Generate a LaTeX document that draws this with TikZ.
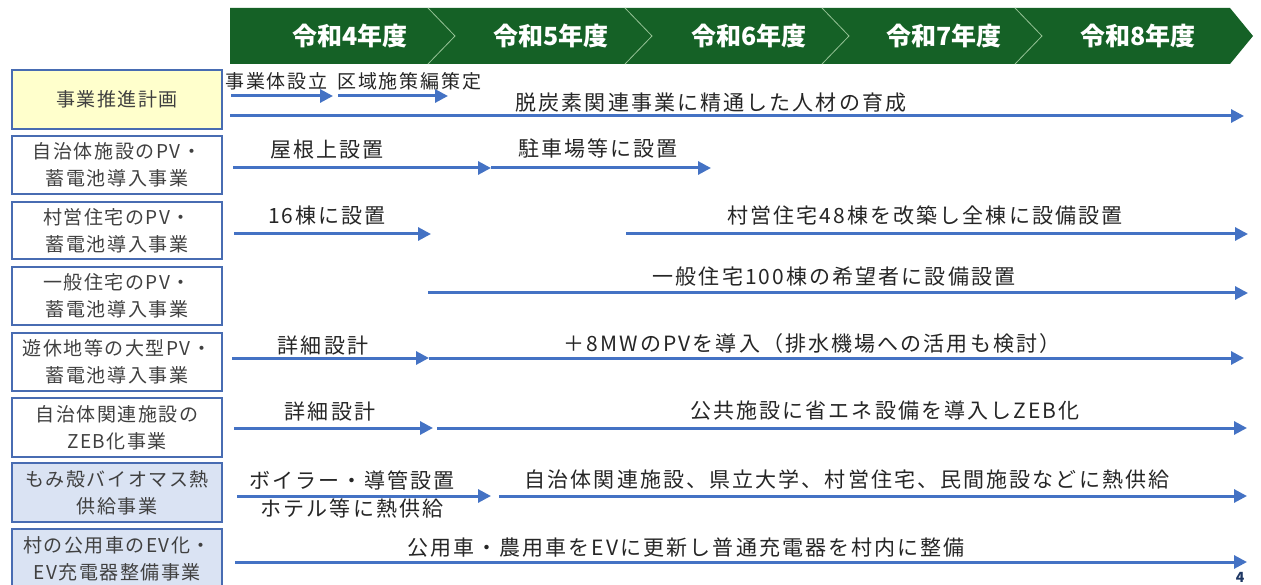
\documentclass[tikz,border=0pt]{standalone}
\usepackage{fontspec}
\usetikzlibrary{arrows.meta}
\newfontfamily\jpf[LetterSpace=10]{Noto Sans CJK JP}
\newfontfamily\jpb[LetterSpace=8]{Noto Sans CJK JP}
\newfontfamily\jph{Noto Sans CJK JP}
\definecolor{hdrgreen}{RGB}{21,97,38}
\definecolor{divline}{RGB}{150,195,150}
\definecolor{arrblue}{RGB}{68,114,196}
\definecolor{boxline}{RGB}{72,108,178}
\definecolor{boxtext}{RGB}{64,64,64}
\definecolor{lbltext}{RGB}{38,38,38}
\definecolor{yfill}{RGB}{255,255,204}
\definecolor{bfill}{RGB}{218,227,243}
\definecolor{pgnum}{RGB}{31,56,100}
\tikzset{
  x=1pt, y=-1pt,
  rowbox/.style={draw=boxline, line width=1.3pt, fill=white, minimum width=210pt, minimum height=58pt,
    inner sep=0pt, align=center, text=boxtext, font=\jpb\fontsize{19}{27}\selectfont},
  yearlbl/.style={text=white, font=\jph\bfseries\fontsize{25}{30}\selectfont, inner sep=0pt},
  lbl/.style={text=lbltext, font=\jpf\fontsize{21}{27}\selectfont, inner sep=0pt, align=center},
  slbl/.style={text=lbltext, font=\jpf\fontsize{19}{24}\selectfont, inner sep=0pt, anchor=west},
  arr/.style={draw=arrblue, line width=3pt, -{Triangle[length=13pt,width=13pt]}},
}
\begin{document}
\begin{tikzpicture}
\clip (0,0) rectangle (1261,585);
\useasboundingbox (0,0) rectangle (1261,585);
\fill[white] (0,0) rectangle (1261,585);
% header band
\fill[hdrgreen] (230,8) -- (1230,8) -- (1253,36) -- (1230,64) -- (230,64) -- cycle;
\foreach \xx in {428,625,822,1015}{
  \draw[divline, line width=0.8pt] (\xx,8) -- (\xx+27,36) -- (\xx,64);
}
\node[yearlbl] (y4) at (350,36) {令和4年度};
\node[yearlbl] (y5) at (551,36) {令和5年度};
\node[yearlbl] (y6) at (749,36) {令和6年度};
\node[yearlbl] (y7) at (944,36) {令和7年度};
\node[yearlbl] (y8) at (1138,36) {令和8年度};
% left boxes
\node[rowbox, fill=yfill, minimum height=59pt] (b1) at (117,99.5) {事業推進計画};
\node[rowbox] (b2) at (117,165) {自治体施設のPV・\\蓄電池導入事業};
\node[rowbox, minimum height=57pt] (b3) at (117,230.5) {村営住宅のPV・\\蓄電池導入事業};
\node[rowbox] (b4) at (117,296) {一般住宅のPV・\\蓄電池導入事業};
\node[rowbox] (b5) at (117,362) {遊休地等の大型PV・\\蓄電池導入事業};
\node[rowbox, minimum height=59pt] (b6) at (117,427.5) {自治体関連施設の\\ZEB化事業};
\node[rowbox, fill=bfill, minimum height=59pt] (b7) at (117,492.5) {もみ殻バイオマス熱\\供給事業};
\node[rowbox, fill=bfill, minimum height=60pt] (b8) at (117,559) {村の公用車のEV化・\\EV充電器整備事業};
% row 1
\coordinate (r1a) at (231,96); \coordinate (r1b) at (333,96);
\coordinate (r1c) at (338,96); \coordinate (r1d) at (448,96);
\coordinate (r1e) at (230,116); \coordinate (r1f) at (1244,116);
\draw[arr] (r1a) -- (r1b);
\draw[arr] (r1c) -- (r1d);
\draw[arr] (r1e) -- (r1f);
\node[slbl] (t1a) at (225,81) {事業体設立};
\node[slbl] (t1b) at (337,81) {区域施策編策定};
\node[lbl] (t1c) at (711,103) {脱炭素関連事業に精通した人材の育成};
% row 2
\coordinate (r2a) at (233,168); \coordinate (r2b) at (491,168); \coordinate (r2c) at (711,168);
\draw[arr] (r2a) -- (r2b);
\draw[arr] (r2b) -- (r2c);
\node[lbl] (t2a) at (327,150) {屋根上設置};
\node[lbl] (t2b) at (598,149) {駐車場等に設置};
% row 3
\coordinate (r3a) at (234,234); \coordinate (r3b) at (431,234);
\coordinate (r3c) at (626,234); \coordinate (r3d) at (1248,234);
\draw[arr] (r3a) -- (r3b);
\draw[arr] (r3c) -- (r3d);
\node[lbl] (t3a) at (327,216) {16棟に設置};
\node[lbl] (t3b) at (925,216) {村営住宅48棟を改築し全棟に設備設置};
% row 4
\coordinate (r4a) at (428,293); \coordinate (r4b) at (1248,293);
\draw[arr] (r4a) -- (r4b);
\node[lbl] (t4a) at (834,277) {一般住宅100棟の希望者に設備設置};
% row 5
\coordinate (r5a) at (232,358); \coordinate (r5b) at (429,358); \coordinate (r5c) at (1244,358);
\draw[arr] (r5a) -- (r5b);
\draw[arr] (r5b) -- (r5c);
\node[lbl] (t5a) at (323,345) {詳細設計};
\node[lbl] (t5b) at (812,344) {＋8MWのPVを導入（排水機場への活用も検討）};
% row 6
\coordinate (r6a) at (234,428); \coordinate (r6b) at (433,428);
\coordinate (r6c) at (437,428); \coordinate (r6d) at (1247,428);
\draw[arr] (r6a) -- (r6b);
\draw[arr] (r6c) -- (r6d);
\node[lbl] (t6a) at (330,411) {詳細設計};
\node[lbl] (t6b) at (885,411) {公共施設に省エネ設備を導入しZEB化};
% row 7
\coordinate (r7a) at (237,496); \coordinate (r7b) at (491,496);
\coordinate (r7c) at (499,496); \coordinate (r7d) at (1247,496);
\draw[arr] (r7a) -- (r7b);
\draw[arr] (r7c) -- (r7d);
\node[lbl] (t7a) at (352,480) {ボイラー・導管設置};
\node[lbl] (t7b) at (352,508) {ホテル等に熱供給};
\node[lbl] (t7c) at (847,479) {自治体関連施設、県立大学、村営住宅、民間施設などに熱供給};
% row 8
\coordinate (r8a) at (235,562); \coordinate (r8b) at (1247,562);
\draw[arr] (r8a) -- (r8b);
\node[lbl] (t8a) at (686,548) {公用車・農用車をEVに更新し普通充電器を村内に整備};
% page number
\node[text=pgnum, font=\jph\bfseries\fontsize{14}{16}\selectfont, inner sep=0pt] (pg) at (1240,577) {4};
\end{tikzpicture}
\end{document}
